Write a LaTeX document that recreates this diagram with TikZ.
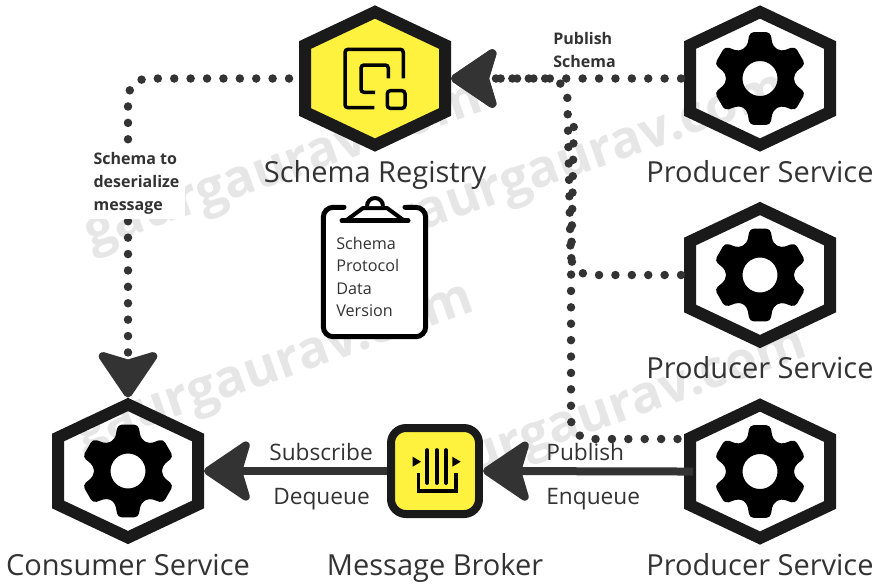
\documentclass[tikz,border=0pt]{standalone}
\usepackage{fontspec}
\setmainfont{Open Sans}
\usepackage{tikz}
\usetikzlibrary{arrows.meta, positioning, calc}
\definecolor{hexblack}{RGB}{26, 26, 26}
\definecolor{signyellow}{RGB}{255, 242, 63}
\definecolor{arrowgray}{RGB}{51, 51, 51}
\definecolor{markgray}{RGB}{230, 230, 230}
\tikzset{
  hexnode/.style={minimum width=3.04cm, minimum height=2.94cm, inner sep=0pt, outer sep=0pt},
  hexline/.style={draw=hexblack, line width=.24cm, miter limit=10},
  bigtip/.style={-{Stealth[length=1.03cm, width=1.38cm, inset=.2cm, round]}},
  flowline/.style={draw=arrowgray, line width=.16cm, bigtip},
  dotbase/.style={draw=arrowgray, line width=.17cm, line cap=round, dash pattern=on 0pt off .328cm, rounded corners=.4cm},
  dotline/.style={dotbase, bigtip},
  iconline/.style={draw=black, line width=.07cm, rounded corners=.06cm},
  biglabel/.style={font=\fontsize{16.5}{20}\selectfont, text=arrowgray, inner sep=0pt, anchor=base},
  sidelabel/.style={font=\fontsize{12.9}{16}\selectfont, text=arrowgray, inner sep=0pt, anchor=base west},
  notelabel/.style={font=\fontsize{9.1}{13.1}\selectfont\bfseries, text=arrowgray, align=left, inner sep=0pt},
  watermark/.style={font=\fontsize{29.5}{30}\selectfont\bfseries, text=markgray, rotate=19.5, anchor=base west, inner sep=0pt}
}
\newcommand{\hexbox}[4]{
  \node[hexnode] (#1) at (#2,#3) {};
  \draw[hexline, fill=#4, shift={(#2,#3)}] (0,-66.5) -- (70,-33.5) -- (70,33.5) -- (0,66.5) -- (-70,33.5) -- (-70,-33.5) -- cycle;
}
\newcommand{\gearicon}[2]{
  \fill[black, even odd rule, rounded corners=.08cm, shift={(#1,#2)}] (120:33.6)
    \foreach \a in {90,30,-30,-90,-150,-210} { -- (\a+22:34.5) -- (\a+12.5:47.5) -- (\a-12.5:47.5) -- (\a-22:34.5) } -- cycle
    (0,0) circle (17.5);
}
\begin{document}
\begin{tikzpicture}[x=.02cm, y=-.02cm]
  \useasboundingbox (0,0) rectangle (878,583);
  \fill[white] (0,0) rectangle (878,583);

  % Watermark
  \node[watermark] (mark1) at (91,250) {gaurgaurav.com};
  \node[watermark] (mark2) at (395,240) {gaurgaurav.com};
  \node[watermark] (mark3) at (82,450) {gaurgaurav.com};
  \node[watermark] (mark4) at (415,495) {gaurgaurav.com};

  % Hexagons
  \hexbox{reg}{375}{78.5}{signyellow}
  \hexbox{prodone}{760}{78.5}{none}
  \hexbox{prodtwo}{760}{275}{none}
  \hexbox{prodthree}{760}{471.5}{none}
  \hexbox{cons}{128}{471}{none}
  \gearicon{760}{78.5}
  \gearicon{760}{275}
  \gearicon{760}{471.5}
  \gearicon{128}{471}

  % Registry icon
  \draw[iconline] (374.3,107.7) -- (345,107.7) -- (345,49.3) -- (403.3,49.3) -- (403.3,78.3);
  \draw[iconline] (375,92.3) -- (361,92.3) -- (361,65) -- (388.3,65) -- (388.3,78.3);
  \draw[iconline] (387.3,90.7) rectangle (405,108.3);

  % Broker
  \node[draw=hexblack, fill=signyellow, line width=.16cm, rounded corners=.3cm, minimum width=1.76cm, minimum height=1.72cm, inner sep=0pt, outer sep=.08cm] (broker) at (435,471) {};
  \draw[black, line width=.074cm, line cap=round] (427.3,450) -- (427.3,483) (436.7,450) -- (436.7,483) (446,450) -- (446,483);
  \draw[black, line width=.07cm] (418.3,473.3) -- (418.3,491) -- (456,491) -- (456,473.3);
  \fill[black] (412.7,456.7) -- (421,461.7) -- (412.7,466.7) -- cycle;
  \fill[black] (452.3,456.7) -- (460.7,461.7) -- (452.3,466.7) -- cycle;

  % Clipboard
  \draw[black, line width=.1cm, fill=white, rounded corners=.2cm, line cap=round] (344,207.3) -- (323.3,207.3) -- (323.3,336.7) -- (425.7,336.7) -- (425.7,207.3) -- (405,207.3);
  \draw[black, line width=.08cm, line join=round, fill=white] (346.7,220) -- (363,208) -- (387,208) -- (403.3,220);
  \draw[black, line width=.08cm, fill=white] (367,206) arc (180:360:8 and 8);
  \draw[black, line width=.1cm, line cap=round] (342,220.7) -- (408,220.7);
  \node[font=\fontsize{9.2}{12.7}\selectfont, text=arrowgray, align=left, anchor=north west, inner sep=0pt] (cliptext) at (336,237) {Schema\\Protocol\\Data\\Version};

  % Dotted connectors
  \coordinate (busbot) at (571,439);
  \coordinate (busmid) at (571,275);
  \coordinate (bustop) at (567,78.5);
  \coordinate (busend) at (574,112);
  \draw[dotline, shorten <=.06cm] (prodone.west) -- (reg.east);
  \draw[dotline, shorten <=.06cm] (prodtwo.west) -- (busmid) -- (bustop) -- (reg.east);
  \draw[dotbase, dash phase=.258cm, shorten <=.06cm] ($(prodthree.west)+(0,-32.5)$) -- (busbot) -- (busmid) -- (busend);
  \draw[dotline, shorten <=.2cm] (reg.west) -| (cons.north);

  % Solid connectors
  \draw[flowline, shorten <=-.18cm] (prodthree.west) -- (broker.east);
  \draw[flowline] (broker.west) -- (cons.east);

  % Labels
  \node[biglabel] (reglabel) at (375,182) {Schema Registry};
  \node[biglabel] (prodonelabel) at (760,182) {Producer Service};
  \node[biglabel] (prodtwolabel) at (760,378) {Producer Service};
  \node[biglabel] (prodthreelabel) at (760,575) {Producer Service};
  \node[biglabel] (conslabel) at (128,575) {Consumer Service};
  \node[biglabel] (brokerlabel) at (435,575) {Message Broker};
  \node[sidelabel] (sublabel) at (269,460) {Subscribe};
  \node[sidelabel] (deqlabel) at (273,504) {Dequeue};
  \node[sidelabel] (publabel) at (546,460) {Publish};
  \node[sidelabel] (enqlabel) at (546,504) {Enqueue};
  \node[notelabel, anchor=west] (pubschema) at (553,50) {Publish\\Schema};
  \node[notelabel, anchor=west, fill=white, inner sep=3pt] (deserial) at (88,183) {Schema to\\deserialize\\message};
\end{tikzpicture}
\end{document}
